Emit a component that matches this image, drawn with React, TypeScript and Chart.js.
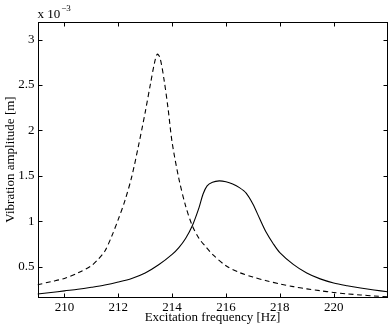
import React, { useEffect, useRef } from "react";
import { Chart, registerables } from "chart.js";

Chart.register(...registerables);

const dashedFreq = [209, 209.5, 210, 210.5, 211, 211.25, 211.5, 211.75, 212, 212.25, 212.5, 212.75, 213, 213.2, 213.35, 213.45, 213.55, 213.7, 213.85, 214, 214.25, 214.5, 214.75, 215, 215.25, 215.5, 216, 216.5, 217, 217.5, 218, 218.5, 219, 219.5, 220, 220.5, 221, 221.5, 222];
const dashedAmp = [0.30, 0.335, 0.37, 0.43, 0.51, 0.58, 0.67, 0.83, 1.02, 1.23, 1.49, 1.83, 2.2, 2.52, 2.75, 2.84, 2.8, 2.56, 2.24, 1.87, 1.47, 1.17, 0.95, 0.81, 0.72, 0.635, 0.51, 0.435, 0.385, 0.345, 0.31, 0.28, 0.255, 0.235, 0.215, 0.20, 0.188, 0.177, 0.168];

const solidFreq = [209, 209.5, 210, 210.5, 211, 211.5, 212, 212.5, 213, 213.5, 214, 214.25, 214.5, 214.75, 215, 215.15, 215.3, 215.5, 215.75, 216, 216.25, 216.5, 216.75, 217, 217.25, 217.5, 217.75, 218, 218.5, 219, 219.5, 220, 220.5, 221, 221.5, 222];
const solidAmp = [0.199, 0.215, 0.233, 0.25, 0.272, 0.297, 0.33, 0.37, 0.43, 0.52, 0.635, 0.71, 0.81, 0.95, 1.15, 1.3, 1.39, 1.43, 1.445, 1.435, 1.41, 1.37, 1.31, 1.19, 1.03, 0.875, 0.755, 0.655, 0.525, 0.43, 0.365, 0.32, 0.29, 0.265, 0.243, 0.224];

const xTicks = [210, 212, 214, 216, 218, 220];
const yTicks = [0.5, 1, 1.5, 2, 2.5, 3];
const xLabel = "Excitation frequency [Hz]";
const yLabel = "Vibration amplitude [m]";

const FONT = "'Liberation Serif', 'Times New Roman', serif";

const framePlugin = {
  id: "matlabFrame",
  afterDatasetsDraw(chart: any) {
    const { ctx, chartArea: a, scales } = chart;
    const xs = scales.x;
    const ys = scales.y;
    ctx.save();
    ctx.strokeStyle = "#000";
    ctx.lineWidth = 1;
    const L = Math.round(a.left) + 0.5;
    const R = Math.round(a.right) - 0.5;
    const T = Math.round(a.top) + 0.5;
    const B = Math.round(a.bottom) - 0.5;
    ctx.strokeRect(L, T, R - L, B - T);
    const tl = 4;
    ctx.beginPath();
    for (const v of xTicks) {
      const px = Math.round(xs.getPixelForValue(v)) + 0.5;
      ctx.moveTo(px, B);
      ctx.lineTo(px, B - tl);
      ctx.moveTo(px, T);
      ctx.lineTo(px, T + tl);
    }
    for (const v of yTicks) {
      const py = Math.round(ys.getPixelForValue(v)) + 0.5;
      ctx.moveTo(L, py);
      ctx.lineTo(L + tl, py);
      ctx.moveTo(R, py);
      ctx.lineTo(R - tl, py);
    }
    ctx.stroke();
    ctx.fillStyle = "#000";
    ctx.textBaseline = "alphabetic";
    ctx.textAlign = "left";
    ctx.font = `13px ${FONT}`;
    ctx.fillText("x 10", a.left, 18);
    const w = ctx.measureText("x 10").width;
    ctx.font = `9px ${FONT}`;
    ctx.fillText("\u22123", a.left + w + 1, 11);
    ctx.restore();
  },
};

export default function App() {
  const ref = useRef<HTMLCanvasElement>(null);
  useEffect(() => {
    document.body.style.margin = "0";
    const canvas = ref.current!;
    const chart = new Chart(canvas, {
      type: "line",
      data: {
        datasets: [
          {
            label: "dashed",
            data: dashedFreq.map((f, i) => ({ x: f, y: dashedAmp[i] })),
            borderColor: "#000",
            borderWidth: 1.1,
            borderDash: [5, 3.5],
            pointRadius: 0,
            tension: 0.3,
            fill: false,
          },
          {
            label: "solid",
            data: solidFreq.map((f, i) => ({ x: f, y: solidAmp[i] })),
            borderColor: "#000",
            borderWidth: 1.1,
            pointRadius: 0,
            tension: 0.3,
            fill: false,
          },
        ],
      },
      options: {
        animation: false,
        responsive: false,
        devicePixelRatio: 1,
        layout: { padding: { top: 21.5, right: 2.5, left: 0, bottom: 0 } },
        plugins: { legend: { display: false }, tooltip: { enabled: false } },
        scales: {
          x: {
            type: "linear",
            min: 209,
            max: 222,
            grid: { display: false, drawTicks: false },
            border: { display: false },
            afterBuildTicks: (s: any) => {
              s.ticks = xTicks.map((v) => ({ value: v }));
            },
            afterFit: (s: any) => {
              s.height = 30.5;
            },
            ticks: {
              color: "#000",
              font: { family: FONT, size: 13 },
              padding: 2,
              maxRotation: 0,
              autoSkip: false,
              callback: (v: any) => String(v),
            },
            title: {
              display: true,
              text: xLabel,
              color: "#000",
              font: { family: FONT, size: 13 },
              padding: { top: 0, bottom: 3 },
            },
          },
          y: {
            type: "linear",
            min: 0.16,
            max: 3.2,
            grid: { display: false, drawTicks: false },
            border: { display: false },
            afterBuildTicks: (s: any) => {
              s.ticks = yTicks.map((v) => ({ value: v }));
            },
            afterFit: (s: any) => {
              s.width = 37.5;
            },
            ticks: {
              color: "#000",
              font: { family: FONT, size: 13 },
              padding: 3,
              autoSkip: false,
              callback: (v: any) => String(v),
            },
            title: {
              display: true,
              text: yLabel,
              color: "#000",
              font: { family: FONT, size: 13 },
              padding: { top: 3, bottom: 0 },
            },
          },
        },
      },
      plugins: [framePlugin],
    } as any);
    return () => chart.destroy();
  }, []);
  return (
    <div style={{ position: "fixed", left: 0, top: 0, width: 390, height: 328, background: "#fff" }}>
      <canvas ref={ref} width={390} height={328} style={{ display: "block" }} />
    </div>
  );
}
